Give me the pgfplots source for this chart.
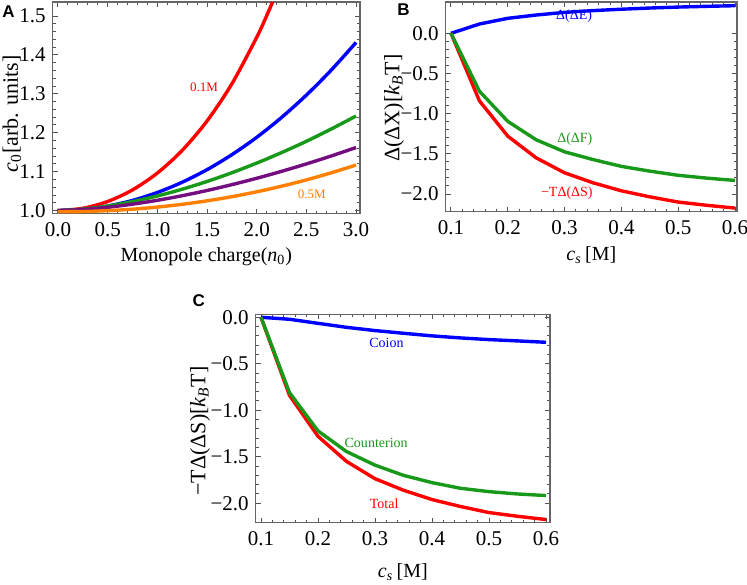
\documentclass[border=0pt]{standalone}
\usepackage{fontspec}
\setmainfont{Liberation Serif}
\newfontfamily\tnr{Liberation Serif}
\newfontfamily\panelfont{Liberation Sans}
\usepackage{pgfplots}
\pgfplotsset{compat=1.18}

\definecolor{mred}{rgb}{1,0,0}
\definecolor{mblue}{rgb}{0,0,1}
\definecolor{mgreen}{rgb}{0.1,0.6,0.1}
\definecolor{mpurple}{rgb}{0.45,0.05,0.5}
\definecolor{morange}{rgb}{1,0.5,0}
\definecolor{frame}{gray}{0.4}

\pgfplotsset{
  panel/.style={
    scale only axis,
    axis line style={draw=frame, line width=0.6pt},
    tick style={draw=frame!80!black, line width=0.5pt},
    major tick length=2.4pt, minor tick length=1.4pt,
    minor tick num=4,
    font=\tnr\fontsize{10}{12}\selectfont,
    ticklabel style={font=\tnr\fontsize{10.5}{12}\selectfont},
    xticklabel style={yshift=-1.0pt},
    xlabel style={font=\tnr\fontsize{10}{12}\selectfont},
    ylabel style={font=\tnr\fontsize{11}{13}\selectfont},
    every axis plot/.append style={line width=1.7pt},
  },
}

\begin{document}
\begin{tikzpicture}
\path[use as bounding box] (0,0) rectangle (373.5pt,292pt);

% ---- A ----
\begin{axis}[panel,
  at={(26.35pt,185.35pt)}, anchor=south west,
  width=153.65pt, height=105.65pt,
  xmin=-0.053, xmax=3.04, ymin=0.993, ymax=1.536,
  xtick={0,0.5,1,1.5,2,2.5,3},
  xticklabels={0.0,0.5,1.0,1.5,2.0,2.5,3.0},
  ytick={1,1.1,1.2,1.3,1.4,1.5},
  yticklabels={1.0,1.1,1.2,1.3,1.4,1.5},
  xlabel={Monopole charge(\textit{n}\textsubscript{0})},
  ylabel={\textit{c}\textsubscript{0}[arb. units]},
  xlabel style={at={(axis description cs:0.5,-0.205)}, anchor=center},
  ylabel style={at={(axis description cs:-0.1325,0.47)}, anchor=center},
]
\addplot[mred, smooth] coordinates {(0,1) (0.25,1.0058) (0.5,1.0233) (0.75,1.0531) (1,1.0964)
  (1.25,1.1546) (1.5,1.2301) (1.75,1.3256) (2,1.4451) (2.1,1.5004) (2.16,1.536)};
\addplot[mblue, smooth] coordinates {(0,1) (0.25,1.0029) (0.5,1.0116) (0.75,1.0261) (1,1.0465)
  (1.25,1.0728) (1.5,1.1051) (1.75,1.1436) (2,1.1882) (2.25,1.2392) (2.5,1.2967) (2.75,1.3609) (3,1.432)};
\addplot[mgreen, smooth] coordinates {(0,1) (0.25,1.0036) (0.5,1.0116) (0.75,1.0230) (1,1.0375)
  (1.25,1.0549) (1.5,1.0748) (1.75,1.0972) (2,1.122) (2.25,1.149) (2.5,1.178) (2.75,1.2096) (3,1.243)};
\addplot[mpurple, smooth] coordinates {(0,1) (0.25,1.0027) (0.5,1.0084) (0.75,1.0165) (1,1.0264)
  (1.25,1.0382) (1.5,1.0516) (1.75,1.0666) (2,1.0830) (2.25,1.1008) (2.5,1.1199) (2.75,1.1403) (3,1.162)};
\addplot[morange, smooth] coordinates {(0,0.997) (0.25,0.9976) (0.5,0.9998) (0.75,1.0035) (1,1.0090)
  (1.25,1.0161) (1.5,1.0250) (1.75,1.0357) (2,1.0482) (2.25,1.0626) (2.5,1.0788) (2.75,1.0970) (3,1.117)};
\node[text=mred, font=\tnr\fontsize{6.5}{8}\selectfont] at (axis cs:1.47,1.318) {0.1M};
\node[text=morange, font=\tnr\fontsize{6.5}{8}\selectfont] at (axis cs:2.555,1.042) {0.5M};
\end{axis}

% ---- B ----
\begin{axis}[panel,
  at={(222.85pt,186.15pt)}, anchor=south west,
  width=145.65pt, height=104.85pt,
  xmin=0.0907, xmax=0.6035, ymin=-2.22, ymax=0.39,
  xtick={0.1,0.2,0.3,0.4,0.5,0.6},
  xticklabels={0.1,0.2,0.3,0.4,0.5,0.6},
  ytick={-2,-1.5,-1,-0.5,0},
  yticklabels={−2.0,−1.5,−1.0,−0.5,0.0},
  xlabel={\textit{c\textsubscript{s}}\,[M]},
  ylabel={Δ(ΔX)[\textit{k\textsubscript{B}}T]},
  xlabel style={at={(axis description cs:0.5,-0.206)}, anchor=center},
  ylabel style={at={(axis description cs:-0.1775,0.494)}, anchor=center},
]
\addplot[mblue] coordinates {(0.1,0) (0.15,0.116) (0.2,0.187) (0.25,0.228) (0.3,0.261)
  (0.35,0.283) (0.4,0.300) (0.45,0.315) (0.5,0.327) (0.55,0.336) (0.6,0.344)};
\addplot[mred] coordinates {(0.1,0) (0.15,-0.84) (0.2,-1.28) (0.25,-1.55) (0.3,-1.736)
  (0.35,-1.86) (0.4,-1.96) (0.45,-2.035) (0.5,-2.10) (0.55,-2.14) (0.6,-2.175)};
\addplot[mgreen] coordinates {(0.1,0) (0.15,-0.72) (0.2,-1.096) (0.25,-1.325) (0.3,-1.475)
  (0.35,-1.571) (0.4,-1.656) (0.45,-1.715) (0.5,-1.767) (0.55,-1.802) (0.6,-1.831)};
\node[text=mblue, font=\tnr\fontsize{7}{8}\selectfont] at (axis cs:0.3166,0.219) {Δ(ΔE)};
\node[text=mgreen, font=\tnr\fontsize{7}{8}\selectfont] at (axis cs:0.318,-1.32) {Δ(ΔF)};
\node[text=mred, font=\tnr\fontsize{7}{8}\selectfont] at (axis cs:0.304,-1.995) {−TΔ(ΔS)};
\end{axis}

% ---- C ----
\begin{axis}[panel,
  at={(127.85pt,30.65pt)}, anchor=south west,
  width=147.15pt, height=104.2pt,
  xmin=0.0907, xmax=0.607, ymin=-2.209, ymax=0.032,
  xtick={0.1,0.2,0.3,0.4,0.5,0.6},
  xticklabels={0.1,0.2,0.3,0.4,0.5,0.6},
  ytick={-2,-1.5,-1,-0.5,0},
  yticklabels={−2.0,−1.5,−1.0,−0.5,0.0},
  xlabel={\textit{c\textsubscript{s}}\,[M]},
  ylabel={−TΔ(ΔS)[\textit{k\textsubscript{B}}T]},
  xlabel style={at={(axis description cs:0.5,-0.235)}, anchor=center},
  ylabel style={at={(axis description cs:-0.189,0.44)}, anchor=center},
]
\addplot[mblue] coordinates {(0.1,0) (0.15,-0.0215) (0.2,-0.065) (0.25,-0.108) (0.3,-0.143)
  (0.35,-0.172) (0.4,-0.200) (0.45,-0.222) (0.5,-0.240) (0.55,-0.254) (0.6,-0.269)};
\addplot[mred] coordinates {(0.1,0) (0.15,-0.84) (0.2,-1.28) (0.25,-1.55) (0.3,-1.736)
  (0.35,-1.86) (0.4,-1.96) (0.45,-2.035) (0.5,-2.10) (0.55,-2.14) (0.6,-2.175)};
\addplot[mgreen] coordinates {(0.1,0) (0.15,-0.81) (0.2,-1.222) (0.25,-1.444) (0.3,-1.59)
  (0.35,-1.70) (0.4,-1.778) (0.45,-1.839) (0.5,-1.875) (0.55,-1.90) (0.6,-1.917)};
\node[text=mblue, font=\tnr\fontsize{7}{8}\selectfont] at (axis cs:0.32,-0.273) {Coion};
\node[text=mgreen, font=\tnr\fontsize{7}{8}\selectfont] at (axis cs:0.302,-1.348) {Counterion};
\node[text=mred, font=\tnr\fontsize{7}{8}\selectfont] at (axis cs:0.316,-2.0) {Total};
\end{axis}

\node[font=\panelfont\bfseries\fontsize{8.5}{10}\selectfont] at (4.2pt,286.2pt) {A};
\node[font=\panelfont\bfseries\fontsize{8.5}{10}\selectfont] at (201.7pt,287pt) {B};
\node[font=\panelfont\bfseries\fontsize{8.5}{10}\selectfont] at (99.4pt,141.6pt) {C};
\end{tikzpicture}
\end{document}
